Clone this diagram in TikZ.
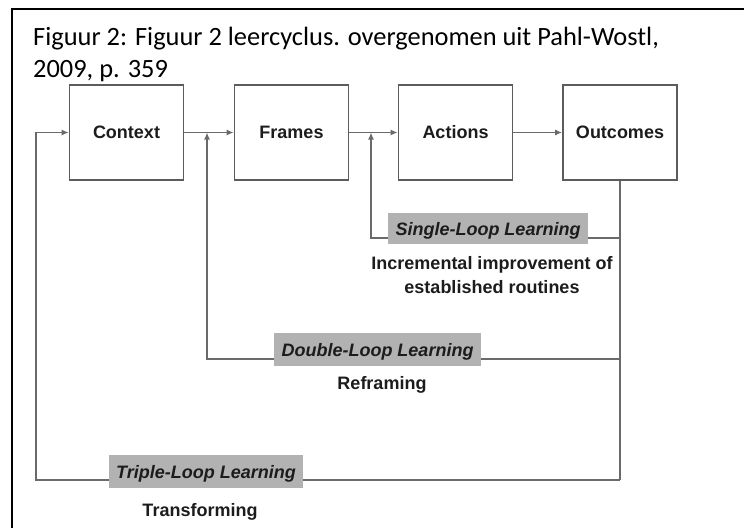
\documentclass[tikz,border=0pt]{standalone}
\usepackage{fontspec}
\setmainfont{Carlito}
\newfontfamily\diagfont{Liberation Sans}
\usetikzlibrary{arrows.meta, positioning, calc}
\definecolor{inkline}{HTML}{6A6A6A}
\definecolor{inkbox}{HTML}{5C5C5C}
\definecolor{inktag}{HTML}{B2B2B2}
\definecolor{inktext}{HTML}{1C1C1C}

\tikzset{
  stage/.style={draw=inkbox, line width=1.6pt, minimum width=114pt,
    minimum height=95pt, inner sep=0pt, text=inktext,
    font=\diagfont\bfseries\fontsize{18}{22}\selectfont},
  flow/.style={inkline, line width=1.6pt, -{Latex[length=7pt,width=6pt]}},
  loopline/.style={inkline, line width=1.6pt},
  looptag/.style={fill=inktag, inner sep=0pt, text=inktext,
    text height=13pt, text depth=0pt,
    font=\diagfont\bfseries\itshape\fontsize{18}{22}\selectfont},
  loopnote/.style={inner sep=0pt, align=center, text=inktext,
    font=\diagfont\bfseries\fontsize{18}{24}\selectfont},
}

\begin{document}
\begin{tikzpicture}[x=1pt, y=-1pt]
  \useasboundingbox (0,0) rectangle (744,528);
  % frame of the figure
  \draw[line width=2pt] (12,528) -- (12,9) -- (744,9);
  \node[anchor=base west, align=left, inner sep=0pt,
        font=\fontsize{26.4}{32}\selectfont] (caption) at (33,77)
    {Figuur 2: Figuur 2 leercyclus. overgenomen uit Pahl-Wostl,\\
     2009, p. 359};

  % the four stages
  \node[stage] (ctx) at (126.5,132.5) {Context};
  \node[stage] (frm) at (291.5,132.5) {Frames};
  \node[stage] (act) at (455.5,132.5) {Actions};
  \node[stage] (out) at (620,132.5) {Outcomes};

  \draw[flow] (ctx) -- (frm);
  \draw[flow] (frm) -- (act);
  \draw[flow] (act) -- (out);

  % turning points of the loops
  \coordinate (sglturn) at (371,238);
  \coordinate (dblturn) at (207,359);
  \coordinate (trpturn) at (36,480);
  \coordinate (entry) at (trpturn |- ctx.west);

  \draw[loopline] (out.south) -- (out.south |- trpturn);
  \draw[flow] (out.south |- sglturn) -- (sglturn) -- (sglturn |- frm.east);
  \draw[flow] (out.south |- dblturn) -- (dblturn) -- (dblturn |- ctx.east);
  \draw[flow] (out.south |- trpturn) -- (trpturn) -- (entry) -- (ctx.west);

  % loop labels
  \node[looptag, minimum width=200pt, minimum height=31pt]
    (sgltag) at (488,228.5) {Single-Loop Learning};
  \node[looptag, minimum width=207pt, minimum height=33pt]
    (dbltag) at (377.5,349.5) {Double-Loop Learning};
  \node[looptag, minimum width=194pt, minimum height=33pt]
    (trptag) at (206,471.5) {Triple-Loop Learning};

  \node[loopnote] (sglnote) at (492,275.5)
    {Incremental improvement of\\established routines};
  \node[loopnote] (dblnote) at (382,384.5) {Reframing};
  \node[loopnote] (trpnote) at (200,512) {Transforming};
\end{tikzpicture}
\end{document}
